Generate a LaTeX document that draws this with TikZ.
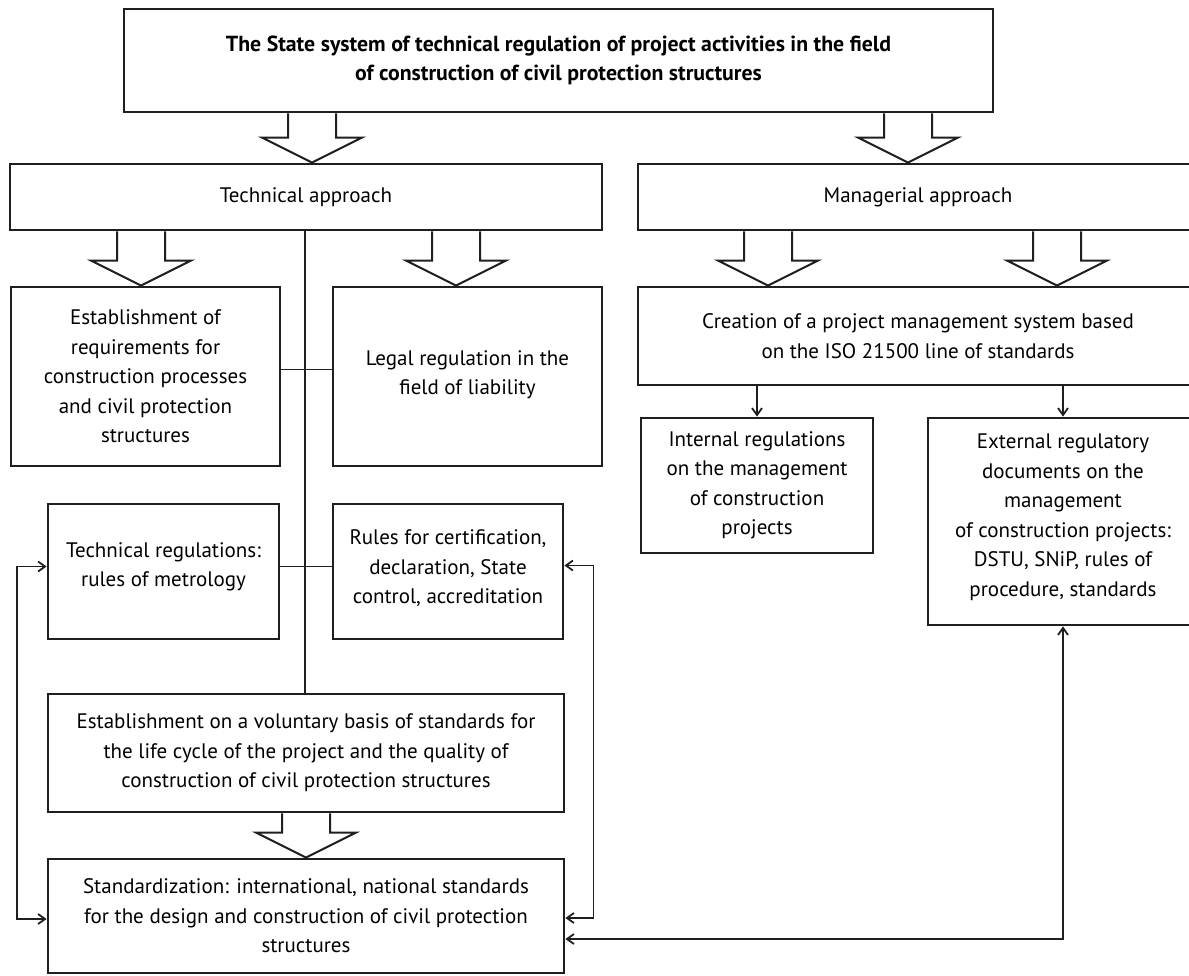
\documentclass[tikz,border=0pt]{standalone}
\usepackage{fontspec}
\setmainfont{PT Sans}
\usetikzlibrary{arrows.meta,calc}
\newcommand\harrow[3]{%
  \coordinate (ha) at (#1,0 |- #2.south);
  \coordinate (hb) at (#1,0 |- #3.north);
  \draw[hollow] ($(ha)+(-24,0)$) -- ($(hb)+(-24,-25)$) -- ($(hb)+(-50,-25)$) -- (hb)
     -- ($(hb)+(50,-25)$) -- ($(hb)+(24,-25)$) -- ($(ha)+(24,0)$);}
\begin{document}
\begin{tikzpicture}[x=1pt,y=-1pt,
  box/.style={draw=black!88, line width=2.8pt, fill=white, align=center,
    font=\fontsize{21}{29.5}\selectfont, inner sep=0pt},
  conn/.style={draw=black!88, line width=1.8pt},
  tipend/.style={-{Straight Barb[length=7pt,width=10pt]}},
  tipboth/.style={{Straight Barb[length=7pt,width=10pt]}-{Straight Barb[length=7pt,width=10pt]}},
  hollow/.style={draw=black!88, line width=2pt, fill=white}]
\useasboundingbox (0,0) rectangle (1189,976);
\fill[white] (0,0) rectangle (1189,976);
\clip (0,0) rectangle (1189,976);

\node[box, minimum width=869, minimum height=103, font=\fontsize{21.8}{28.5}\selectfont\bfseries] (top) at (558.5,60.5)
  {The State system of technical regulation of project activities in the field\\of construction of civil protection structures};
\node[box, minimum width=592, minimum height=66] (tech) at (306,197) {Technical approach};
\node[box, minimum width=560, minimum height=66] (man) at (918,197) {Managerial approach};
\node[box, minimum width=269, minimum height=179] (estab) at (145.5,376.5)
  {Establishment of\\requirements for\\construction processes\\and civil protection\\structures};
\node[box, minimum width=269, minimum height=179] (legal) at (467.5,376.5)
  {Legal regulation in the\\field of liability\\[-21.5pt]};
\node[box, minimum width=560, minimum height=98] (creat) at (918,336)
  {Creation of a project management system based\\on the ISO 21500 line of standards};
\node[box, minimum width=232, minimum height=135] (int) at (757,485.5)
  {Internal regulations\\on the management\\of construction\\projects};
\node[box, minimum width=270, minimum height=207] (ext) at (1063,521.5)
  {External regulatory\\documents on the\\management\\of construction projects:\\DSTU, SNiP, rules of\\procedure, standards\\[-16.5pt]};
\node[box, minimum width=231, minimum height=135] (tr) at (163.5,571.5)
  {Technical regulations:\\rules of metrology\\[-15.5pt]};
\node[box, minimum width=230, minimum height=135] (rules) at (448,571.5)
  {Rules for certification,\\declaration, State\\control, accreditation\\[-20.5pt]};
\node[box, minimum width=516, minimum height=118] (vol) at (306,753)
  {Establishment on a voluntary basis of standards for\\the life cycle of the project and the quality of\\construction of civil protection structures};
\node[box, minimum width=516, minimum height=114] (std) at (306,916)
  {Standardization: international, national standards\\for the design and construction of civil protection\\structures};

\harrow{312}{top}{tech}
\harrow{908}{top}{man}
\harrow{141}{tech}{estab}
\harrow{456}{tech}{legal}
\harrow{768}{man}{creat}
\harrow{1057}{man}{creat}
\harrow{306}{vol}{std}

\draw[conn] (305,0 |- tech.south) -- (305,0 |- vol.north);
\draw[conn] ([yshift=7pt]estab.east) -- ([yshift=7pt]legal.west);
\draw[conn] ([yshift=5pt]tr.east) -- ([yshift=5pt]rules.west);
\draw[conn, tipend] (int.north |- creat.south) -- (int.north);
\draw[conn, tipend] (ext.north |- creat.south) -- (ext.north);
\draw[conn, tipboth] ([yshift=5pt]tr.west) -- ++(-30,0) |- ([yshift=-3pt]std.west);
\draw[conn, tipboth] ([yshift=6pt]rules.east) -- ++(29,0) |- ([yshift=-2pt]std.east);
\draw[conn, tipboth] (ext.south) |- ([yshift=-23pt]std.east);
\end{tikzpicture}
\end{document}
